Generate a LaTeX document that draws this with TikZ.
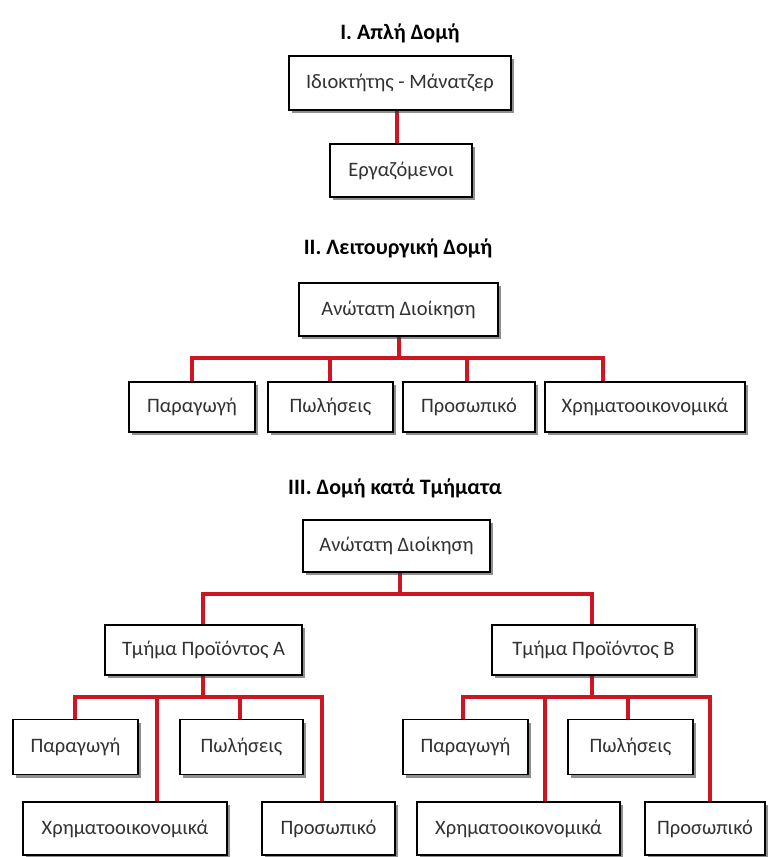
\documentclass[tikz,border=0pt]{standalone}
\usepackage{fontspec}
\setmainfont{Carlito}
\usetikzlibrary{shadows,backgrounds}
\definecolor{linkred}{RGB}{205,22,34}
\definecolor{boxtext}{RGB}{50,50,50}
\tikzset{
  box/.style={draw=black, line width=1.4pt, fill=white, inner sep=0pt,
    text=boxtext, font=\fontsize{20.5}{22}\selectfont,
    drop shadow={shadow xshift=3pt, shadow yshift=-3pt, opacity=0.55, fill=black!80}},
  title/.style={font=\fontsize{22}{24}\selectfont\bfseries, text=black},
  conn/.style={draw=linkred, line width=4pt}
}
\begin{document}
\begin{tikzpicture}[x=1pt,y=-1pt]
\useasboundingbox (0,0) rectangle (770,857);
% ---- I
\node[title] (t1) at (400,33) {I. Απλή Δομή};
\node[box,minimum width=222pt,minimum height=54pt] (own) at (400,83) {Ιδιοκτήτης - Μάνατζερ};
\node[box,minimum width=142pt,minimum height=53pt] (emp) at (401,170.5) {Εργαζόμενοι};
% ---- II
\node[title] (t2) at (398,248) {II. Λειτουργική Δομή};
\node[box,minimum width=199pt,minimum height=53pt] (top2) at (398.5,309.5) {Ανώτατη Διοίκηση};
\node[box,minimum width=126pt,minimum height=50pt] (p2) at (192,407) {Παραγωγή};
\node[box,minimum width=125pt,minimum height=50pt] (s2) at (330.5,407) {Πωλήσεις};
\node[box,minimum width=132pt,minimum height=50pt] (h2) at (469,407) {Προσωπικό};
\node[box,minimum width=200pt,minimum height=50pt] (f2) at (645,407) {Χρηματοοικονομικά};
\coordinate (bus2) at (399,358);
% ---- III
\node[title] (t3) at (395,488) {III. Δομή κατά Τμήματα};
\node[box,minimum width=187pt,minimum height=52pt] (top3) at (396.5,546) {Ανώτατη Διοίκηση};
\node[box,minimum width=197pt,minimum height=50pt] (A) at (203.5,650) {Τμήμα Προϊόντος Α};
\node[box,minimum width=203pt,minimum height=50pt] (B) at (593.5,650) {Τμήμα Προϊόντος Β};
\coordinate (bus3) at (400,594);
\node[box,minimum width=125pt,minimum height=55pt] (pA) at (75.5,747) {Παραγωγή};
\node[box,minimum width=123pt,minimum height=55pt] (sA) at (241.5,747) {Πωλήσεις};
\node[box,minimum width=204pt,minimum height=53pt] (fA) at (125,828.5) {Χρηματοοικονομικά};
\node[box,minimum width=133pt,minimum height=53pt] (hA) at (328.5,828.5) {Προσωπικό};
\coordinate (busA) at (203,697);
\node[box,minimum width=125pt,minimum height=55pt] (pB) at (465.5,747) {Παραγωγή};
\node[box,minimum width=125pt,minimum height=55pt] (sB) at (630.5,747) {Πωλήσεις};
\node[box,minimum width=203pt,minimum height=53pt] (fB) at (518.5,828.5) {Χρηματοοικονομικά};
\node[box,minimum width=120pt,minimum height=53pt] (hB) at (705,828.5) {Προσωπικό};
\coordinate (busB) at (592,697);
\begin{scope}[on background layer]
  \draw[conn] ([xshift=-3pt]own.south) -- ([xshift=-4pt]emp.north);
  % II
  \draw[conn] ([xshift=0.5pt]top2.south) -- (bus2);
  \draw[conn] (p2.north) |- (bus2);
  \draw[conn] ([xshift=-0.5pt]s2.north) |- (bus2);
  \draw[conn] ([xshift=-2pt]h2.north) |- (bus2);
  \draw[conn] ([xshift=-42pt]f2.north) |- (bus2);
  % III
  \draw[conn] ([xshift=3.5pt]top3.south) -- (bus3);
  \draw[conn] ([xshift=-0.5pt]A.north) |- (bus3);
  \draw[conn] ([xshift=-1.5pt]B.north) |- (bus3);
  \draw[conn] ([xshift=-0.5pt]A.south) -- (busA);
  \draw[conn] ([xshift=-0.5pt]pA.north) |- (busA);
  \draw[conn] ([xshift=-1.5pt]sA.north) |- (busA);
  \draw[conn] ([xshift=32pt]fA.north) |- (busA);
  \draw[conn] ([xshift=-6.5pt]hA.north) |- (busA);
  \draw[conn] ([xshift=-1.5pt]B.south) -- (busB);
  \draw[conn] ([xshift=-2.5pt]pB.north) |- (busB);
  \draw[conn] ([xshift=-2.5pt]sB.north) |- (busB);
  \draw[conn] ([xshift=26.5pt]fB.north) |- (busB);
  \draw[conn] ([xshift=5pt]hB.north) |- (busB);
\end{scope}
\end{tikzpicture}
\end{document}
